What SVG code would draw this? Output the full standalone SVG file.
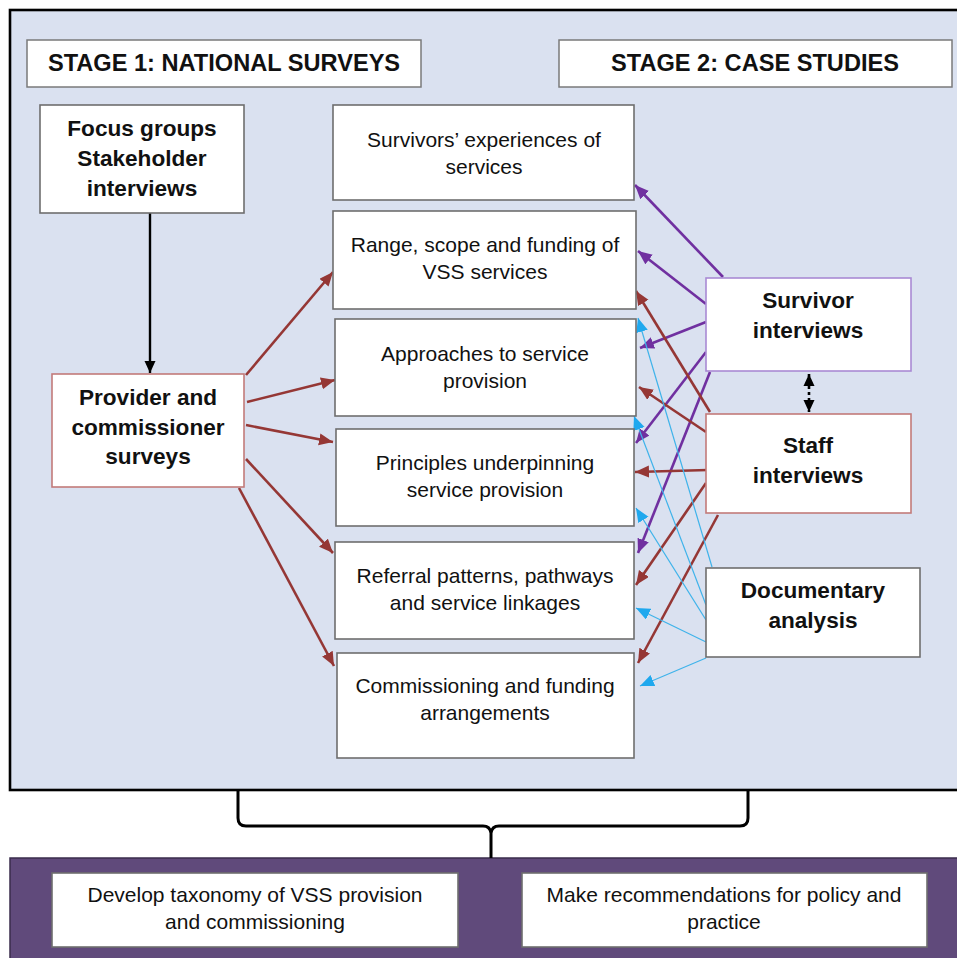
<svg xmlns="http://www.w3.org/2000/svg" width="957" height="958" viewBox="0 0 957 958">
<style>
.bx{fill:#fff;stroke:#6e6e6e;stroke-width:1.6}
.hd{fill:#fff;stroke:#7a7a7a;stroke-width:1.5}
.t{font-family:"Liberation Sans",Arial,sans-serif;font-size:21px;fill:#111;text-anchor:middle}
.b{font-family:"Liberation Sans",Arial,sans-serif;font-size:22.6px;font-weight:bold;fill:#111;text-anchor:middle}
.h{font-family:"Liberation Sans",Arial,sans-serif;font-size:23.6px;font-weight:bold;fill:#111;text-anchor:middle}
.red{stroke:#953735;stroke-width:2.6;fill:none;marker-end:url(#mr)}
.pur{stroke:#7030a0;stroke-width:2.6;fill:none;marker-end:url(#mp)}
.blu{stroke:#3fb3ea;stroke-width:1.2;fill:none;marker-end:url(#mb)}
</style>
<defs>
<marker id="mr" markerUnits="userSpaceOnUse" markerWidth="15" markerHeight="13" refX="14" refY="6" orient="auto"><path d="M0,0 L14,6 L0,12 z" fill="#953735"/></marker>
<marker id="mp" markerUnits="userSpaceOnUse" markerWidth="15" markerHeight="13" refX="14" refY="6" orient="auto"><path d="M0,0 L14,6 L0,12 z" fill="#7030a0"/></marker>
<marker id="mb" markerUnits="userSpaceOnUse" markerWidth="15" markerHeight="13" refX="14" refY="6" orient="auto"><path d="M0,0 L14,6 L0,12 z" fill="#1fa8ee"/></marker>
<marker id="mk" markerUnits="userSpaceOnUse" markerWidth="14" markerHeight="12" refX="12" refY="5.5" orient="auto"><path d="M0,0 L12,5.5 L0,11 z" fill="#000"/></marker>
<marker id="mks" markerUnits="userSpaceOnUse" markerWidth="14" markerHeight="12" refX="0" refY="5.5" orient="auto"><path d="M12,0 L0,5.5 L12,11 z" fill="#000"/></marker>
</defs>
<rect x="0" y="0" width="957" height="958" fill="#fff"/>
<g id="stage-panel"><rect x="10" y="10" width="960" height="780" fill="#dae1f0" stroke="#000" stroke-width="2.6"/></g>
<g id="outcome-panel"><rect x="10" y="858" width="960" height="110" fill="#604a7b" stroke="#3a2c4c" stroke-width="1.5"/></g>

<g id="connectors">
<line x1="150" y1="213" x2="150" y2="373" stroke="#000" stroke-width="2.4" marker-end="url(#mk)"/>
<line x1="809" y1="374" x2="809" y2="412" stroke="#000" stroke-width="2.6" stroke-dasharray="3,3" marker-start="url(#mks)" marker-end="url(#mk)"/>
<line class="red" x1="246" y1="375" x2="333" y2="272"/>
<line class="red" x1="247" y1="402" x2="335" y2="380"/>
<line class="red" x1="246" y1="425" x2="333" y2="442"/>
<line class="red" x1="246" y1="459" x2="333" y2="553"/>
<line class="red" x1="239" y1="488" x2="334" y2="666"/>
<line class="pur" x1="723" y1="277" x2="635" y2="185"/>
<line class="pur" x1="706" y1="304" x2="638" y2="251"/>
<line class="pur" x1="706" y1="322" x2="640" y2="348"/>
<line class="pur" x1="706" y1="352" x2="636" y2="443"/>
<line class="pur" x1="710" y1="372" x2="638" y2="553"/>
<line class="red" x1="710" y1="412" x2="636" y2="291"/>
<line class="red" x1="706" y1="432" x2="639" y2="387"/>
<line class="red" x1="708" y1="470" x2="635" y2="472"/>
<line class="red" x1="706" y1="483" x2="636" y2="585"/>
<line class="red" x1="718" y1="515" x2="638" y2="663"/>
<line class="blu" x1="712" y1="567" x2="638" y2="318"/>
<line class="blu" x1="706" y1="605" x2="634" y2="416"/>
<line class="blu" x1="706" y1="620" x2="636" y2="508"/>
<line class="blu" x1="706" y1="642" x2="636" y2="608"/>
<line class="blu" x1="706" y1="658" x2="640" y2="686"/>
<path d="M238,790 V818 Q238,826 246,826 H483 Q490,826 491,833 V858 M491,833 Q492,826 499,826 H740 Q748,826 748,818 V790" fill="none" stroke="#000" stroke-width="3"/>
</g>

<g id="stage1"><rect class="hd" x="27" y="40" width="394" height="47"/><text class="h" x="224" y="71">STAGE 1: NATIONAL SURVEYS</text></g>
<g id="stage2"><rect class="hd" x="559" y="40" width="393" height="47"/><text class="h" x="755" y="71">STAGE 2: CASE STUDIES</text></g>

<g id="focus-groups"><rect class="bx" x="40" y="105" width="204" height="108"/><text class="b" x="142" y="136">Focus groups</text><text class="b" x="142" y="166">Stakeholder</text><text class="b" x="142" y="196">interviews</text></g>

<g id="provider-surveys"><rect x="52" y="374" width="192" height="113" fill="#fff" stroke="#c27b7a" stroke-width="1.6"/><text class="b" x="148" y="405">Provider and</text><text class="b" x="148" y="435">commissioner</text><text class="b" x="148" y="464">surveys</text></g>

<g id="survivors-experiences"><rect class="bx" x="333" y="105" width="301" height="95"/><text class="t" x="484" y="147">Survivors’ experiences of</text><text class="t" x="484" y="174">services</text></g>
<g id="range-scope"><rect class="bx" x="333" y="211" width="303" height="98"/><text class="t" x="485" y="252">Range, scope and funding of</text><text class="t" x="485" y="279">VSS services</text></g>
<g id="approaches"><rect class="bx" x="335" y="319" width="301" height="97"/><text class="t" x="485" y="361">Approaches to service</text><text class="t" x="485" y="388">provision</text></g>
<g id="principles"><rect class="bx" x="336" y="429" width="298" height="97"/><text class="t" x="485" y="470">Principles underpinning</text><text class="t" x="485" y="497">service provision</text></g>
<g id="referral"><rect class="bx" x="335" y="542" width="299" height="97"/><text class="t" x="485" y="583">Referral patterns, pathways</text><text class="t" x="485" y="610">and service linkages</text></g>
<g id="commissioning"><rect class="bx" x="337" y="653" width="297" height="105"/><text class="t" x="485" y="693">Commissioning and funding</text><text class="t" x="485" y="720">arrangements</text></g>

<g id="survivor-interviews"><rect x="706" y="278" width="205" height="93" fill="#fff" stroke="#a98ad4" stroke-width="1.6"/><text class="b" x="808" y="308">Survivor</text><text class="b" x="808" y="338">interviews</text></g>
<g id="staff-interviews"><rect x="706" y="414" width="205" height="99" fill="#fff" stroke="#c27b7a" stroke-width="1.6"/><text class="b" x="808" y="453">Staff</text><text class="b" x="808" y="483">interviews</text></g>
<g id="documentary-analysis"><rect class="bx" x="706" y="568" width="214" height="89"/><text class="b" x="813" y="598">Documentary</text><text class="b" x="813" y="628">analysis</text></g>

<g id="taxonomy"><rect class="bx" x="52" y="873" width="406" height="74"/><text class="t" x="255" y="902">Develop taxonomy of VSS provision</text><text class="t" x="255" y="929">and commissioning</text></g>
<g id="recommendations"><rect class="bx" x="522" y="873" width="405" height="74"/><text class="t" x="724" y="902">Make recommendations for policy and</text><text class="t" x="724" y="929">practice</text></g>
</svg>
